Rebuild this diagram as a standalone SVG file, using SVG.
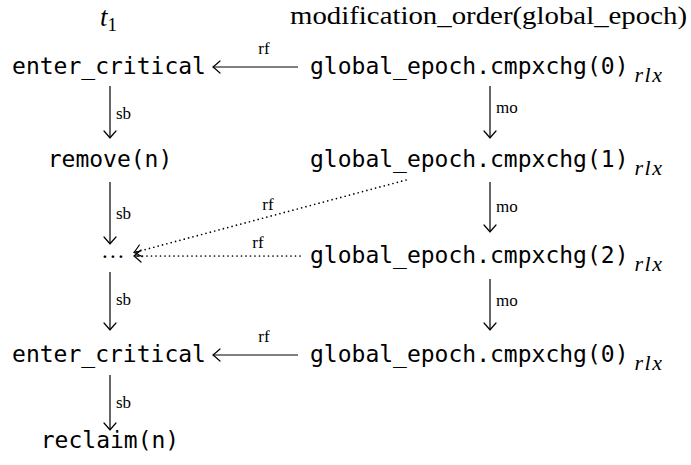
<svg xmlns="http://www.w3.org/2000/svg" width="691" height="465" viewBox="0 0 691 465">
<defs>
<style>
.mono{font-family:"DejaVu Sans Mono",monospace;font-size:23px;fill:#000}
.serif{font-family:"Liberation Serif","DejaVu Serif",serif;fill:#000}
.lbl{font-family:"Liberation Serif","DejaVu Serif",serif;font-size:17px;fill:#000}
.sub{font-family:"Liberation Serif","DejaVu Serif",serif;font-style:italic;font-size:22px;letter-spacing:1.5px;fill:#000}
.edge{stroke:#000;stroke-width:1.2;fill:none;marker-end:url(#to)}
.dot{stroke:#000;stroke-width:1.7;fill:none;stroke-dasharray:0 4.5;stroke-linecap:round}
</style>
<marker id="to" viewBox="-9 -7 11 14" refX="0" refY="0" markerWidth="11" markerHeight="14" markerUnits="userSpaceOnUse" orient="auto">
<path d="M-7,-6 Q-2,-1.5 0,0 Q-2,1.5 -7,6" fill="none" stroke="#000" stroke-width="1.2" stroke-linecap="round"/>
</marker>
</defs>
<g id="headers">
<text class="serif" x="100" y="26" font-size="27" font-style="italic">t<tspan font-size="19" font-style="normal" dy="5">1</tspan></text>
<text class="serif" x="290" y="24" font-size="26" textLength="397" lengthAdjust="spacingAndGlyphs">modification_order(global_epoch)</text>
</g>
<g id="n_enter1"><text class="mono" x="109" y="74" text-anchor="middle">enter_critical</text></g>
<g id="n_remove"><text class="mono" x="110" y="167" text-anchor="middle">remove(n)</text></g>
<g id="n_dots"><text class="serif" x="102" y="258" font-size="23" letter-spacing="2.3">...</text></g>
<g id="n_enter2"><text class="mono" x="109" y="362" text-anchor="middle">enter_critical</text></g>
<g id="n_reclaim"><text class="mono" x="110" y="448" text-anchor="middle">reclaim(n)</text></g>
<g id="n_cas0a"><text class="mono" x="310" y="74">global_epoch.cmpxchg(0)<tspan class="sub" dy="8" dx="6">rlx</tspan></text></g>
<g id="n_cas1"><text class="mono" x="310" y="167">global_epoch.cmpxchg(1)<tspan class="sub" dy="8" dx="6">rlx</tspan></text></g>
<g id="n_cas2"><text class="mono" x="310" y="263">global_epoch.cmpxchg(2)<tspan class="sub" dy="8" dx="6">rlx</tspan></text></g>
<g id="n_cas0b"><text class="mono" x="310" y="362">global_epoch.cmpxchg(0)<tspan class="sub" dy="8" dx="6">rlx</tspan></text></g>
<g id="connectors">
<line class="edge" x1="110" y1="86" x2="110" y2="138"/>
<text class="lbl" x="116" y="119">sb</text>
<line class="edge" x1="110" y1="182" x2="110" y2="244"/>
<text class="lbl" x="116" y="219">sb</text>
<line class="edge" x1="110" y1="272" x2="110" y2="330"/>
<text class="lbl" x="116" y="305">sb</text>
<line class="edge" x1="110" y1="375" x2="110" y2="430"/>
<text class="lbl" x="116" y="408">sb</text>
<line class="edge" x1="490" y1="86" x2="490" y2="138"/>
<text class="lbl" x="496" y="113">mo</text>
<line class="edge" x1="490" y1="182" x2="490" y2="232"/>
<text class="lbl" x="496" y="212">mo</text>
<line class="edge" x1="490" y1="279" x2="490" y2="330"/>
<text class="lbl" x="496" y="306">mo</text>
<line class="edge" x1="298" y1="67" x2="213" y2="67"/>
<text class="lbl" x="264" y="54" text-anchor="middle">rf</text>
<line class="edge" x1="298" y1="355" x2="213" y2="355"/>
<text class="lbl" x="264" y="342" text-anchor="middle">rf</text>
<line class="dot" x1="406" y1="180" x2="136" y2="252"/>
<line class="edge" x1="140" y1="251" x2="134" y2="252.5"/>
<text class="lbl" x="268" y="210" text-anchor="middle">rf</text>
<line class="dot" x1="300" y1="256" x2="137" y2="256"/>
<line class="edge" x1="140" y1="256" x2="134" y2="256"/>
<text class="lbl" x="258" y="248" text-anchor="middle">rf</text>
</g>
</svg>
